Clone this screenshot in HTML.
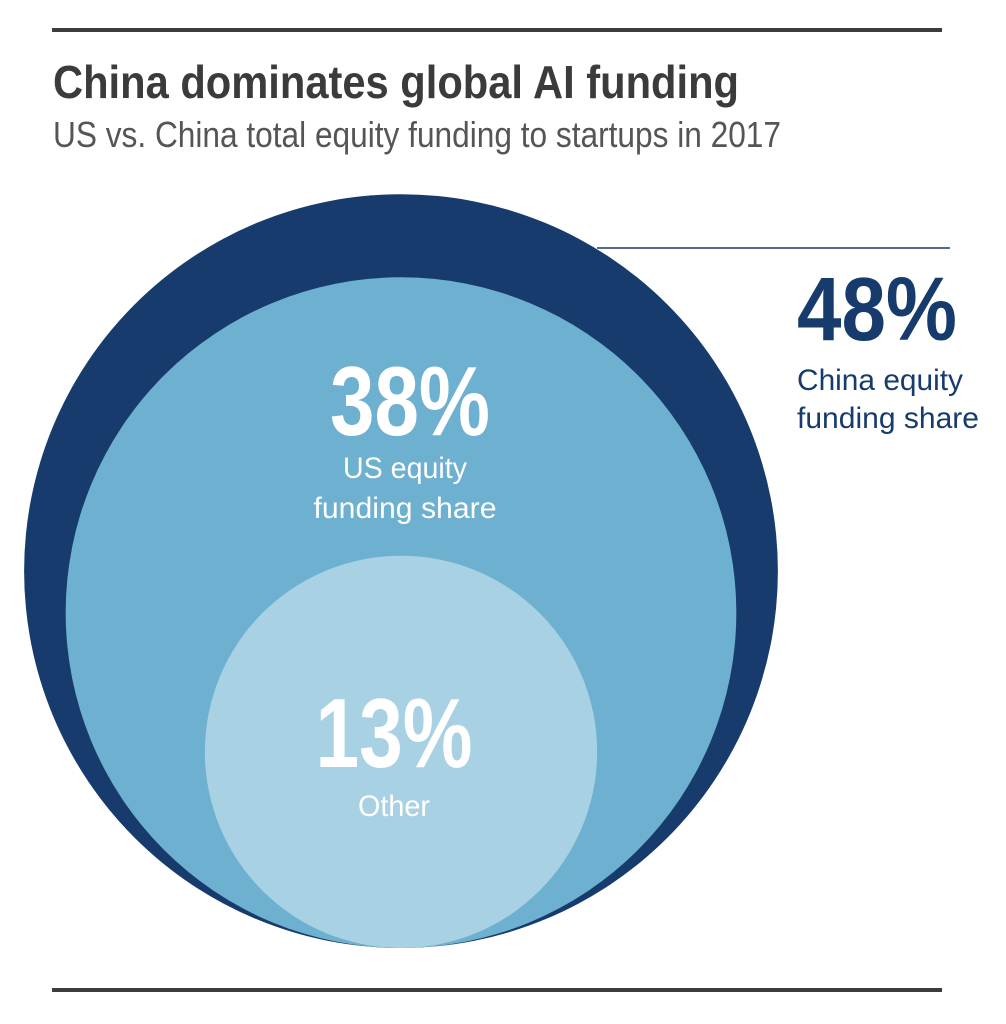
<!DOCTYPE html>
<html><head><meta charset="utf-8"><style>
html,body{margin:0;padding:0;background:#fff;}
svg{display:block;}
text{font-family:"Liberation Sans Narrow","Liberation Sans",sans-serif;}
</style></head><body>
<svg id="chart" width="1006" height="1024" viewBox="0 0 1006 1024">
<rect x="52" y="28" width="890" height="4" fill="#3c3c3c"/>
<rect x="52" y="988" width="890" height="4" fill="#3c3c3c"/>
<text x="53" y="98" font-size="46" font-weight="bold" fill="#3b3b3b" textLength="686" lengthAdjust="spacingAndGlyphs">China dominates global AI funding</text>
<text x="53" y="147" font-size="36" fill="#555" textLength="728" lengthAdjust="spacingAndGlyphs">US vs. China total equity funding to startups in 2017</text>
<g id="circles"></g>
<line x1="597" y1="248" x2="950" y2="248" stroke="#1a3a6b" stroke-width="1.5"/>
<g id="labels"></g>
</svg>
<script>
const categories = ["China", "US", "Other"];
const shares = [48, 38, 13];
const shareLabels = ["48%", "38%", "13%"];
const descLines = [["China equity","funding share"],["US equity","funding share"],["Other"]];
const colors = ["#163b6c","#6db0d0","#a8d1e4"];
const NS="http://www.w3.org/2000/svg";
const cx=401, bottomY=948, k=54.4;
const rOf=v=>k*Math.sqrt(v);
const gc=document.getElementById('circles'), gl=document.getElementById('labels');
categories.forEach((c,i)=>{
  const r=rOf(shares[i]);
  const el=document.createElementNS(NS,'circle');
  el.setAttribute('cx',cx);el.setAttribute('cy',bottomY-r);el.setAttribute('r',r);
  el.setAttribute('fill',colors[i]);
  
  
  gc.appendChild(el);
});
function txt(x,y,s,size,fill,bold,anchor,name,len){
  const t=document.createElementNS(NS,'text');
  t.setAttribute('x',x);t.setAttribute('y',y);t.setAttribute('font-size',size);
  t.setAttribute('fill',fill);if(bold)t.setAttribute('font-weight','bold');
  t.setAttribute('text-anchor',anchor);
  if(len){t.setAttribute('textLength',len);t.setAttribute('lengthAdjust','spacingAndGlyphs');}
  t.textContent=s;
  
  
  gl.appendChild(t);
}
// China label (outside)
txt(797,340,shareLabels[0],90,"#163b6c",true,"start","china-share-value",160);
txt(797,390,descLines[0][0],30,"#163b6c",false,"start","china-label",166);
txt(797,428,descLines[0][1],30,"#163b6c",false,"start","china-label-2",182);
// US
txt(410,435,shareLabels[1],98,"#fff",true,"middle","us-share-value",160);
txt(405,478,descLines[1][0],30,"#fff",false,"middle","us-label",124);
txt(405,518,descLines[1][1],30,"#fff",false,"middle","us-label-2",183);
// Other
txt(394,767,shareLabels[2],98,"#fff",true,"middle","other-share-value",157);
txt(394,816,descLines[2][0],30,"#fff",false,"middle","other-label",72);
</script>
</body></html>
